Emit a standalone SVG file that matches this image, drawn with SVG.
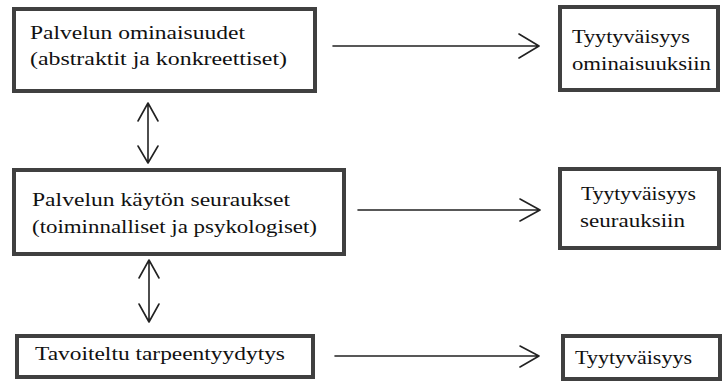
<svg xmlns="http://www.w3.org/2000/svg" width="724" height="383" viewBox="0 0 724 383">
<style>
.box{fill:#fff;stroke:#404040;stroke-width:4}
.c{fill:none;stroke:#222;stroke-width:1.6;stroke-linecap:round;stroke-linejoin:round}
</style>
<rect width="724" height="383" fill="#fff"/>
<g id="connectors">
<path class="c" d="M333 46H538M519 34L539 46L519 58"/>
<path class="c" d="M358 210H539M520 199L540 210L520 221"/>
<path class="c" d="M335 356H538M520 346L539 356L520 367"/>
<path class="c" d="M148 103V163M138 121L148 103L158 121M138 146L148 163L158 146"/>
<path class="c" d="M149 260V322M139 278L149 260L159 278M139 304L149 322L159 304"/>
</g>
<g font-family="'Liberation Serif', 'Times New Roman', Times, serif" font-size="18" fill="#111">
<g id="n1">
<rect class="box" x="14" y="9" width="301" height="82"/>
<text x="30" y="39" textLength="215" lengthAdjust="spacingAndGlyphs">Palvelun ominaisuudet</text>
<text x="30" y="65" textLength="257" lengthAdjust="spacingAndGlyphs">(abstraktit ja konkreettiset)</text>
</g>
<g id="n2">
<rect class="box" x="560" y="7" width="158" height="83"/>
<text x="572" y="43" textLength="118" lengthAdjust="spacingAndGlyphs">Tyytyväisyys</text>
<text x="572" y="70" textLength="139" lengthAdjust="spacingAndGlyphs">ominaisuuksiin</text>
</g>
<g id="n3">
<rect class="box" x="14" y="170" width="330" height="84"/>
<text x="32" y="206" textLength="258" lengthAdjust="spacingAndGlyphs">Palvelun käytön seuraukset</text>
<text x="32" y="233" textLength="285" lengthAdjust="spacingAndGlyphs">(toiminnalliset ja psykologiset)</text>
</g>
<g id="n4">
<rect class="box" x="560" y="169" width="159" height="79"/>
<text x="581" y="200" textLength="115" lengthAdjust="spacingAndGlyphs">Tyytyväisyys</text>
<text x="580" y="227" textLength="105" lengthAdjust="spacingAndGlyphs">seurauksiin</text>
</g>
<g id="n5">
<rect class="box" x="17" y="336" width="296" height="41"/>
<text x="35" y="360" textLength="250" lengthAdjust="spacingAndGlyphs">Tavoiteltu tarpeentyydytys</text>
</g>
<g id="n6">
<rect class="box" x="563" y="336" width="157" height="43"/>
<text x="575" y="364" textLength="117" lengthAdjust="spacingAndGlyphs">Tyytyväisyys</text>
</g>
</g>
</svg>
